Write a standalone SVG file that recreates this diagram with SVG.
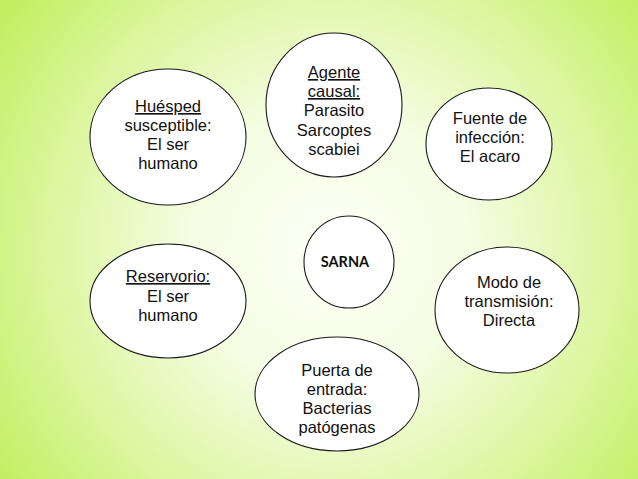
<svg xmlns="http://www.w3.org/2000/svg" width="638" height="479" viewBox="0 0 638 479">
<defs>
<radialGradient id="bg" gradientUnits="userSpaceOnUse" cx="330" cy="250" r="400">
<stop offset="0" stop-color="#fdfff6"/>
<stop offset="0.35" stop-color="#f5fde3"/>
<stop offset="0.7" stop-color="#dcf69f"/>
<stop offset="1" stop-color="#c3ef62"/>
</radialGradient>
<style>
.n{fill:#ffffff;stroke:#1a1a1a;stroke-width:1.1}
.t{font-family:"Liberation Sans",Arial,sans-serif;font-size:16.5px;fill:#111;text-anchor:middle}
.u{text-decoration:underline}
.s{font-family:Lato,"Open Sans",sans-serif;font-weight:bold;font-size:14.5px;fill:#111;text-anchor:middle}
</style>
</defs>
<rect width="638" height="479" fill="url(#bg)"/>
<g id="connectors"/>
<g id="huesped">
<ellipse class="n" cx="168" cy="137" rx="78" ry="68"/>
<text class="t"><tspan class="u" x="168" y="112">Huésped</tspan><tspan x="168" y="131">susceptible:</tspan><tspan x="168" y="150">El ser</tspan><tspan x="168" y="169">humano</tspan></text>
</g>
<g id="agente">
<ellipse class="n" cx="334" cy="105" rx="68" ry="72"/>
<text class="t"><tspan class="u" x="334" y="78">Agente</tspan><tspan class="u" x="334" y="97">causal:</tspan><tspan x="334" y="116">Parasito</tspan><tspan x="334" y="136">Sarcoptes</tspan><tspan x="334" y="155">scabiei</tspan></text>
</g>
<g id="fuente">
<ellipse class="n" cx="489" cy="144" rx="63" ry="56"/>
<text class="t"><tspan x="490" y="124">Fuente de</tspan><tspan x="490" y="143">infección:</tspan><tspan x="490" y="162">El acaro</tspan></text>
</g>
<g id="sarna">
<ellipse class="n" cx="349" cy="262" rx="45" ry="46"/>
<text class="s" x="345" y="267">SARNA</text>
</g>
<g id="reservorio">
<ellipse class="n" cx="168" cy="301" rx="78" ry="57"/>
<text class="t"><tspan class="u" x="168" y="282">Reservorio:</tspan><tspan x="168" y="302">El ser</tspan><tspan x="168" y="321">humano</tspan></text>
</g>
<g id="modo">
<ellipse class="n" cx="507" cy="310" rx="72" ry="63"/>
<text class="t"><tspan x="509" y="288">Modo de</tspan><tspan x="509" y="307">transmisión:</tspan><tspan x="509" y="326">Directa</tspan></text>
</g>
<g id="puerta">
<ellipse class="n" cx="337" cy="394" rx="82" ry="57"/>
<text class="t"><tspan x="337" y="376">Puerta de</tspan><tspan x="337" y="395">entrada:</tspan><tspan x="337" y="414">Bacterias</tspan><tspan x="337" y="433">patógenas</tspan></text>
</g>
</svg>
